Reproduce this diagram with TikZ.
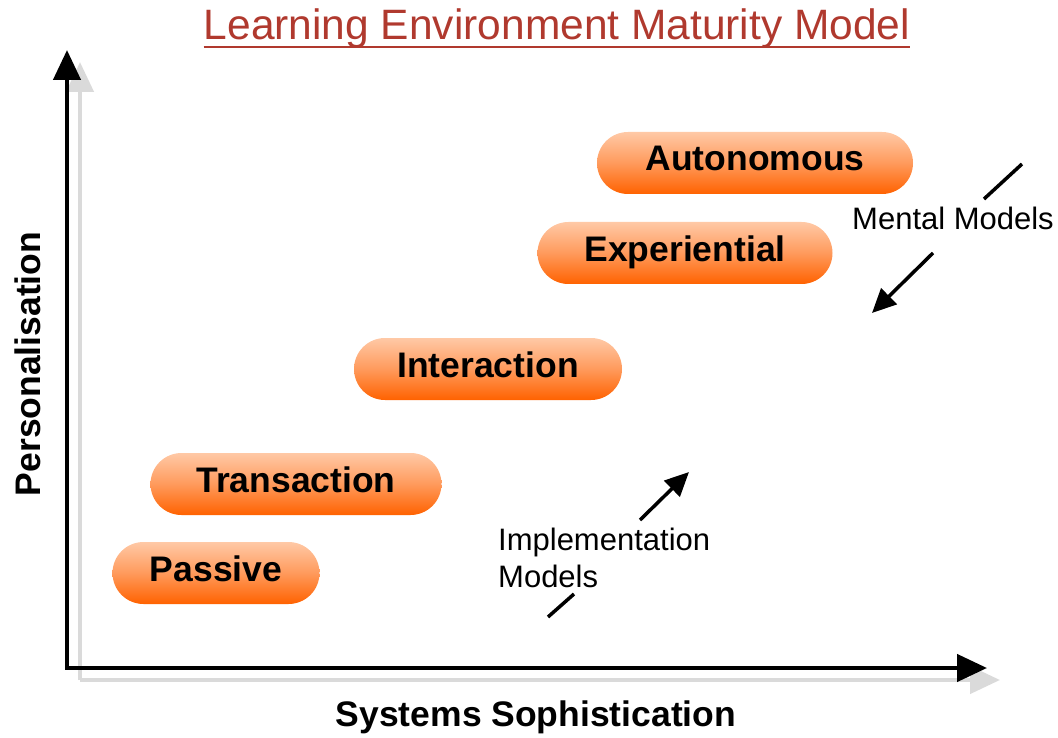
\documentclass[tikz,border=0pt]{standalone}
\usepackage{fontspec}
\setmainfont{Liberation Sans}
\usetikzlibrary{arrows.meta}

\definecolor{titlered}{HTML}{B0392E}
\definecolor{pilltop}{HTML}{FFC9A6}
\definecolor{pillmid}{HTML}{FF9A5C}
\definecolor{pillbot}{HTML}{FF6200}
\definecolor{axisshadow}{HTML}{DADADA}

\tikzset{
  pill/.style={rounded corners=31pt, minimum height=62pt, inner sep=0pt,
    top color=pilltop, bottom color=pillbot, middle color=pillmid,
    font=\fontsize{35.5}{40}\selectfont\bfseries, text=black,
    text depth=9pt},
  axisline/.style={line width=4.5pt, -{Triangle[length=30pt,width=27pt]}},
  axisshade/.style={axisline, draw=axisshadow},
  modelarrow/.style={line width=3.5pt, -{Triangle[length=24pt,width=22pt]}},
  modelstub/.style={line width=3.5pt},
  note/.style={font=\fontsize{31}{37}\selectfont, align=left, inner sep=0pt},
  axislabel/.style={font=\fontsize{35.5}{40}\selectfont\bfseries, inner sep=0pt}
}

\begin{document}
\begin{tikzpicture}[x=1pt,y=-1pt]
  \useasboundingbox (0,0) rectangle (1058,738);

  % title
  \node[font=\fontsize{42.5}{48}\selectfont, text=titlered, inner sep=0pt, anchor=base]
    (title) at (557,40) {Learning Environment Maturity Model};
  \draw[titlered, line width=2pt] ([yshift=-7pt]title.base west) -- ([yshift=-7pt]title.base east);

  % axes with their soft shadow
  \coordinate (origin) at (67,668);
  \coordinate (ytip) at (67,50);
  \coordinate (xtip) at (987,668);
  \coordinate (sorigin) at (80,680);
  \coordinate (sytip) at (80,62);
  \coordinate (sxtip) at (1000,680);
  \draw[axisshade] (sorigin) -- (sytip);
  \draw[axisshade] (sorigin) -- (sxtip);
  \draw[axisline] (origin) -- (ytip);
  \draw[axisline] (origin) -- (xtip);
  \fill (origin) ++(-2.25,-2.25) rectangle ++(4.5,4.5);

  % axis labels
  \node[axislabel, rotate=90] (ylabel) at (28,364) {Personalisation};
  \node[axislabel] (xlabel) at (536,717) {Systems Sophistication};

  % maturity stages
  \node[pill, minimum width=207pt] (passive) at (216,573) {Passive};
  \node[pill, minimum width=291pt] (transaction) at (296,484) {Transaction};
  \node[pill, minimum width=268pt] (interaction) at (488,369) {Interaction};
  \node[pill, minimum width=295pt] (experiential) at (685,253) {Experiential};
  \node[pill, minimum width=316pt] (autonomous) at (755,163) {Autonomous};

  % implementation models (bottom-up)
  \node[note, anchor=west] (impl) at (498,558) {Implementation\\Models};
  \coordinate (i1) at (548,617);
  \coordinate (i2) at (574,594);
  \coordinate (i3) at (640,520);
  \coordinate (i4) at (689,472);
  \draw[modelstub] (i1) -- (i2);
  \draw[modelarrow] (i3) -- (i4);

  % mental models (top-down)
  \node[note] (mental) at (953,218) {Mental Models};
  \coordinate (m1) at (1022,164);
  \coordinate (m2) at (984,199);
  \coordinate (m3) at (933,253);
  \coordinate (m4) at (872,313);
  \draw[modelstub] (m1) -- (m2);
  \draw[modelarrow] (m3) -- (m4);
\end{tikzpicture}
\end{document}
